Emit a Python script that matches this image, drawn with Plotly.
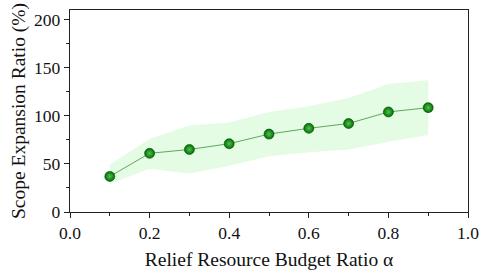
import plotly.graph_objects as go

alpha = [0.1, 0.2, 0.3, 0.4, 0.5, 0.6, 0.7, 0.8, 0.9]
ratio = [37, 61, 65, 71, 81, 87, 92, 104, 108.5]
upper = [49, 76, 90, 93, 104, 110, 118.5, 133, 137]
lower = [29, 45, 40, 48, 58, 62, 65, 73, 80]

x_ticks = [0.0, 0.2, 0.4, 0.6, 0.8, 1.0]
y_ticks = [0, 50, 100, 150, 200]

fig = go.Figure()
fig.add_trace(go.Scatter(x=alpha, y=lower, mode="lines", line=dict(width=0),
                         showlegend=False, hoverinfo="skip"))
fig.add_trace(go.Scatter(x=alpha, y=upper, mode="lines", line=dict(width=0),
                         fill="tonexty", fillcolor="#e4fbe4",
                         showlegend=False, hoverinfo="skip"))
fig.add_trace(go.Scatter(
    x=alpha, y=ratio, mode="lines+markers",
    line=dict(color="#5ea85e", width=1),
    marker=dict(size=10, color="#007000",
                gradient=dict(type="radial", color="#55c055"),
                line=dict(color="#004a00", width=0.6)),
    showlegend=False))

font_family = "Liberation Serif, Times New Roman, serif"
axis_common = dict(showline=True, linecolor="#222", linewidth=1.3, mirror=True,
                   ticks="outside", ticklen=5, tickwidth=1.1, tickcolor="#222",
                   showgrid=False, zeroline=False,
                   tickfont=dict(family=font_family, size=17.5, color="#111"))

fig.update_xaxes(range=[0, 1], tickvals=x_ticks,
                 ticktext=[f"{v:.1f}" for v in x_ticks],
                 minor=dict(ticks="outside", ticklen=3, tickcolor="#222", dtick=0.1),
                 title=dict(text="Relief Resource Budget Ratio α",
                            font=dict(family=font_family, size=19.5, color="#111"),
                            standoff=10),
                 **axis_common)
fig.update_yaxes(range=[0, 210], tickvals=y_ticks,
                 minor=dict(ticks="outside", ticklen=3, tickcolor="#222", dtick=25),
                 title=dict(text="Scope Expansion Ratio (%)",
                            font=dict(family=font_family, size=19.5, color="#111"),
                            standoff=3),
                 **axis_common)

fig.update_layout(width=488, height=276,
                  margin=dict(l=70, r=15, t=9, b=63),
                  font=dict(family=font_family),
                  plot_bgcolor="white", paper_bgcolor="white")

fig.write_html("out.html", config={"displayModeBar": False},
               post_script="document.body.style.margin='0';document.body.style.overflow='hidden';")
